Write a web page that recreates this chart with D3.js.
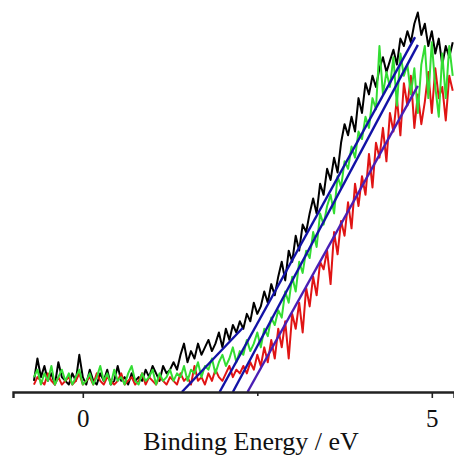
<!DOCTYPE html>
<html>
<head>
<meta charset="utf-8">
<script src="https://cdn.jsdelivr.net/npm/d3@7"></script>
<style>
html,body{margin:0;padding:0;background:#fff;}
svg{display:block;}
.serif{font-family:"Liberation Serif","Times New Roman",serif;}
</style>
</head>
<body>
<svg id="chart" width="454" height="458"></svg>
<script>
// Binding energy grid (eV): -0.70 ... 5.30, step 0.05
const energyStart = -0.70;
const energyStep = 0.05;

const blackSeries = [
 3, 9, 4, 7, 3, 5, 2, 8, 4, 3,
 2, 5, 3, 10, 4, 2, 6, 3, 2, 5,
 3, 6, 2, 3, 7, 3, 4, 2, 5, 3,
 4, 3, 6, 4, 7, 5, 3, 7, 5, 6,
 8, 6, 10, 13, 8, 11, 9, 13, 10, 12,
 14, 11, 13, 16, 12, 17, 14, 18, 16, 19,
 17, 21, 19, 24, 21, 23, 27, 24, 29, 26,
 31, 35, 30, 38, 35, 42, 38, 45, 43, 48,
 52, 48, 56, 53, 60, 57, 63, 59, 67, 72,
 69, 74, 70, 79, 75, 83, 80, 85, 82, 87,
 90, 86, 89, 92, 88, 95, 93, 97, 94, 99,
 102, 96, 99, 93, 97, 91, 95, 88, 93, 90, 94
];
const greenSeries = [
 4, 6, 2, 5, 3, 7, 2, 4, 6, 3,
 5, 2, 4, 6, 2, 3, 5, 2, 4, 7,
 3, 5, 2, 6, 3, 4, 2, 5, 7, 3,
 2, 5, 3, 4, 6, 2, 5, 3, 4, 6,
 3, 5, 4, 7, 3, 6, 5, 8, 4, 7,
 6, 9, 5, 8, 10, 7, 9, 12, 8, 11,
 10, 14, 11, 13, 16, 12, 17, 15, 20, 18,
 22, 20, 27, 24, 31, 27, 35, 32, 38, 36,
 43, 39, 48, 45, 50, 53, 48, 58, 55, 62,
 60, 66, 63, 70, 68, 74, 71, 79, 76, 93,
 80, 86, 82, 90, 77, 91, 85, 88, 80, 87,
 75, 88, 93, 79, 94, 82, 74, 91, 79, 93, 85
];
const redSeries = [
 2, 4, 3, 2, 5, 3, 2, 4, 2, 3,
 4, 2, 3, 5, 2, 3, 4, 2, 5, 3,
 2, 4, 3, 2, 3, 5, 2, 3, 4, 2,
 3, 5, 2, 4, 3, 2, 4, 3, 2, 4,
 3, 2, 5, 3, 4, 2, 7, 3, 4, 2,
 5, 3, 6, 4, 3, 5, 7, 4, 6, 5,
 7, 5, 8, 6, 10, 7, 12, 8, 14, 9,
 17, 12, 19, 9, 21, 17, 24, 16, 28, 23,
 31, 26, 35, 33, 38, 29, 43, 37, 46, 42,
 51, 44, 56, 50, 58, 53, 64, 55, 67, 63,
 71, 62, 75, 70, 79, 69, 83, 77, 85, 71,
 80, 72, 78, 86, 75, 87, 79, 82, 73, 85, 81
];

// Linear onset fits, endpoints in data units
const fitLines = [
  {name: "black onset", pts: [[1.42, 0], [2.29, 17.2]], color: "#1212a6"},
  {name: "black edge",  pts: [[1.96, 0], [4.76, 95.4]], color: "#1212a6"},
  {name: "green edge",  pts: [[2.15, 0], [4.80, 93.3]], color: "#1212a6"},
  {name: "red edge",    pts: [[2.36, 0], [4.80, 82.3]], color: "#4a1eb4"}
];

const xTicks = [0, 2.5, 5];
const xTickLabels = {"0": "0", "5": "5"};
const xTitle = "Binding Energy / eV";

const svg = d3.select("#chart");
const x = d3.scaleLinear().domain([-1.0, 5.318]).range([13, 454]);
const y = d3.scaleLinear().domain([0, 100]).range([392, 20]);

const toPts = arr => arr.map((v, i) => [energyStart + i * energyStep, v]);
const line = d3.line().x(d => x(d[0])).y(d => y(d[1]));

const series = [
  {data: blackSeries, color: "#000000"},
  {data: redSeries, color: "#e01414"},
  {data: greenSeries, color: "#33dd33"}
];
svg.append("g").selectAll("path").data(series).join("path")
  .attr("d", d => line(toPts(d.data)))
  .attr("fill", "none")
  .attr("stroke", d => d.color)
  .attr("stroke-width", 2)
  .attr("stroke-linejoin", "round");

svg.append("g").selectAll("path").data(fitLines).join("path")
  .attr("d", d => line(d.pts))
  .attr("fill", "none")
  .attr("stroke", d => d.color)
  .attr("stroke-width", 2.4);

const axis = d3.axisBottom(x)
  .tickValues(xTicks)
  .tickSizeOuter(0)
  .tickSize(6)
  .tickPadding(11)
  .tickFormat(d => xTickLabels[String(d)] || "");
const gx = svg.append("g").attr("transform", "translate(0,392)").call(axis);
gx.attr("font-family", null).attr("font-size", null).attr("class", "serif");
gx.select(".domain").attr("stroke", "#222").attr("stroke-width", 2.4);
gx.selectAll(".tick line").attr("stroke", "#222").attr("stroke-width", 1.6)
  .attr("y2", d => d === 2.5 ? 4 : 6);
gx.selectAll(".tick text")
  .style("font-size", "25px").attr("fill", "#111");

svg.append("text")
  .attr("class", "serif")
  .attr("x", 251).attr("y", 450)
  .attr("text-anchor", "middle")
  .style("font-size", "26px").attr("fill", "#111")
  .text(xTitle);
</script>
</body>
</html>
